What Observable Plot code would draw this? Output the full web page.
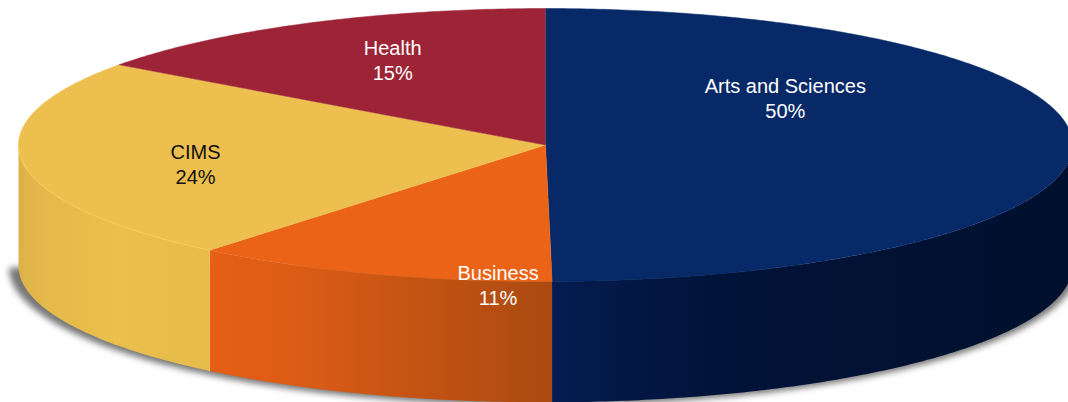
<!DOCTYPE html>
<html>
<head>
<meta charset="utf-8">
<script src="https://cdn.jsdelivr.net/npm/d3@7"></script>
<script src="https://cdn.jsdelivr.net/npm/@observablehq/plot@0.6"></script>
<style>html,body{margin:0;padding:0;background:#fff}</style>
</head>
<body>
<div id="chart"></div>
<script>
const categories = ["Arts and Sciences", "Business", "CIMS", "Health"];
const shares = [49.8, 11.2, 24, 15];
const percentLabels = ["50%", "11%", "24%", "15%"];

const topColors = ["#072968", "#eb6317", "#ecbf4e", "#9d2436"];
const textColors = ["#ffffff", "#ffffff", "#111111", "#ffffff"];
const labelX = [0.455, -0.09, -0.664, -0.29];
const labelY = [0.345, -1.02, -0.135, 0.625];
const depth = 0.885;

const total = d3.sum(shares);
const cum = d3.cumsum(shares);
const angle = (v) => (v / total) * 2 * Math.PI;
const starts = shares.map((s, i) => angle(cum[i] - s));
const ends = shares.map((s, i) => angle(cum[i]));

const arc = (a0, a1, dz = 0) => {
  const n = Math.max(2, Math.ceil((a1 - a0) * 90));
  return d3.range(n + 1).map((k) => {
    const a = a0 + ((a1 - a0) * k) / n;
    return {x: Math.sin(a), y: Math.cos(a) - dz};
  });
};
const topSlice = (i) => [{x: 0, y: 0}, ...arc(starts[i], ends[i])];
const sideSlice = (i) => {
  const a0 = Math.max(starts[i], Math.PI / 2);
  const a1 = Math.min(ends[i], 1.5 * Math.PI);
  if (a1 <= a0) return null;
  return [...arc(a0, a1), ...arc(a0, a1, depth).reverse()];
};

const gradient = (id, stops) => () => {
  const g = d3.create("svg:linearGradient").attr("id", id);
  stops.forEach(([o, c]) => g.append("stop").attr("offset", o).attr("stop-color", c));
  return g.node();
};
const defs = () => {
  const d = d3.create("svg:defs");
  [
    ["side0", [[0, "#041c50"], [0.3, "#021339"], [1, "#00102e"]]],
    ["side1", [[0, "#e55f16"], [0.25, "#dc5c16"], [1, "#aa4a10"]]],
    ["side2", [[0, "#dcb249"], [0.15, "#e5b94a"], [0.5, "#ebbf4c"], [1, "#e6bb4a"]]]
  ].forEach(([id, stops]) => d.append(() => gradient(id, stops)()));
  return d.node();
};

const shadowOutline = [
  ...d3.range(0, 181).map((k) => {
    const a = Math.PI / 2 + (k / 180) * Math.PI;
    return {x: -0.004 + 1.014 * Math.sin(a), y: 1.01 * Math.cos(a) - depth - 0.012};
  })
];

const marks = [
  defs,
  Plot.line(shadowOutline, {x: "x", y: "y", fill: "#4a4a4a", stroke: "none", imageFilter: "blur(3px)", fillOpacity: 0.75}),
  ...[2, 1, 0].map((i) =>
    Plot.line(sideSlice(i), {x: "x", y: "y", fill: `url(#side${i})`, stroke: "none"})
  ),
  ...[0, 1, 2, 3].map((i) =>
    Plot.line(topSlice(i), {x: "x", y: "y", fill: topColors[i], stroke: topColors[i], strokeWidth: 0.5})
  ),
  Plot.line(arc(starts[2], Math.min(ends[2], 1.5 * Math.PI)), {x: "x", y: "y", stroke: "#f6cf5c", strokeWidth: 0.8}),
  Plot.line(
    [{x: Math.sin(starts[2]), y: Math.cos(starts[2])}, {x: Math.sin(starts[2]), y: Math.cos(starts[2]) - depth}],
    {x: "x", y: "y", stroke: "#f6cf5c", strokeWidth: 0.8}
  ),
  Plot.text(categories, {
    x: (d, i) => labelX[i],
    y: (d, i) => labelY[i],
    text: (d, i) => `${d}\n${percentLabels[i]}`,
    fill: (d, i) => textColors[i],
    fontSize: 20,
    lineHeight: 1.25,
    fontFamily: "'Liberation Sans', Arial, sans-serif",
    textAnchor: "middle"
  })
];

const chart = Plot.plot({
  width: 1068,
  height: 402,
  margin: 0,
  x: {domain: [-1, 1], range: [18, 1072], axis: null},
  y: {domain: [1, -1], range: [8, 281], axis: null},
  marks
});
document.getElementById("chart").appendChild(chart);
</script>
</body>
</html>
